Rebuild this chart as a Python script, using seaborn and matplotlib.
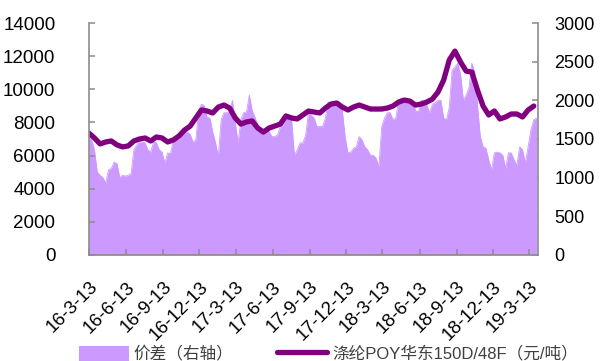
import pandas as pd
import matplotlib
matplotlib.use("Agg")
import matplotlib.pyplot as plt
import matplotlib.transforms as mtransforms
from matplotlib.patches import Patch
from matplotlib.lines import Line2D
import seaborn as sns

# Weekly price spread (right axis), starting 2016-03-13
spread_start = "2016-03-13"
spread_values = [
    1510, 1490, 1360, 1070, 1030, 1000, 930, 1100, 1120, 1200,
    1180, 1000, 1030, 1020, 1030, 1050, 1360, 1420, 1460, 1460,
    1450, 1360, 1330, 1460, 1450, 1360, 1330, 1190, 1320, 1310,
    1490, 1510, 1500, 1550, 1580, 1590, 1560, 1460, 1490, 1870,
    1950, 1930, 1780, 1770, 1590, 1450, 1270, 1750, 1840, 1840,
    1850, 2000, 1710, 1450, 1750, 1840, 1850, 2070, 1870, 1780,
    1680, 1580, 1620, 1620, 1600, 1530, 1530, 1550, 1660, 1680,
    1780, 1780, 1750, 1290, 1360, 1450, 1450, 1550, 1840, 1810,
    1770, 1660, 1660, 1660, 1770, 1980, 1970, 1980, 1990, 1980,
    1870, 1530, 1320, 1330, 1380, 1400, 1530, 1490, 1400, 1360,
    1290, 1290, 1250, 1140, 1660, 1770, 1840, 1840, 1750, 1770,
    2000, 2030, 2020, 2000, 2000, 1980, 1870, 1850, 2000, 1990,
    1940, 1840, 1950, 1970, 2000, 2000, 1770, 1750, 1910, 2390,
    2430, 2480, 2330, 2000, 2070, 2160, 2480, 2370, 1940, 1530,
    1400, 1380, 1230, 1100, 1320, 1330, 1320, 1290, 1120, 1320,
    1320, 1230, 1160, 1400, 1360, 1190, 1400, 1620, 1750, 1770,
]

# Biweekly POY 150D/48F East China price (left axis, yuan/ton)
poy_start = "2016-03-13"
poy_values = [
    7360, 7060, 6700, 6820, 6880, 6640, 6520, 6580, 6880, 7000,
    7060, 6880, 7120, 7060, 6820, 6940, 7180, 7540, 7780, 8270,
    8750, 8690, 8570, 8930, 9050, 8870, 8270, 7900, 8030, 8090,
    7660, 7420, 7660, 7780, 7900, 8390, 8270, 8210, 8450, 8690,
    8630, 8570, 8870, 9110, 9170, 8930, 8750, 8930, 9050, 8930,
    8810, 8810, 8810, 8870, 8990, 9230, 9350, 9290, 9050, 9110,
    9230, 9410, 9840, 10560, 11770, 12310, 11650, 11100, 11040, 9960,
    8990, 8450, 8690, 8210, 8330, 8510, 8510, 8330, 8750, 8990,
]

tick_dates = [
    "2016-03-13", "2016-06-13", "2016-09-13", "2016-12-13",
    "2017-03-13", "2017-06-13", "2017-09-13", "2017-12-13",
    "2018-03-13", "2018-06-13", "2018-09-13", "2018-12-13",
    "2019-03-13",
]
tick_labels = [
    "16-3-13", "16-6-13", "16-9-13", "16-12-13",
    "17-3-13", "17-6-13", "17-9-13", "17-12-13",
    "18-3-13", "18-6-13", "18-9-13", "18-12-13",
    "19-3-13",
]

label_spread = "价差（右轴）"
label_poy = "涤纶POY华东150D/48F（元/吨）"

AREA_COLOR = "#CC99FF"
LINE_COLOR = "#800080"
AXIS_COLOR = "#8C8C8C"

sns.set_theme(style="white")
plt.rcParams["font.family"] = ["Liberation Sans", "Noto Sans CJK SC"]

spread = pd.DataFrame({
    "date": pd.date_range(spread_start, periods=len(spread_values), freq="7D"),
    "value": spread_values,
})
poy = pd.DataFrame({
    "date": pd.date_range(poy_start, periods=len(poy_values), freq="14D"),
    "value": poy_values,
})

fig = plt.figure(figsize=(6, 3.61), dpi=100)
ax = fig.add_axes([0.148, 0.294, 0.749, 0.642])
ax2 = ax.twinx()
# keep the price line above the spread area
ax.set_zorder(ax2.get_zorder() + 1)
ax.patch.set_visible(False)

sns.lineplot(data=spread, x="date", y="value", ax=ax2, color=AREA_COLOR,
             lw=0.6, legend=False)
ax2.fill_between(spread["date"], spread["value"], color=AREA_COLOR, lw=0)
sns.lineplot(data=poy, x="date", y="value", ax=ax, color=LINE_COLOR,
             lw=3.8, legend=False, solid_capstyle="round")

x0, x1 = pd.Timestamp("2016-03-13"), pd.Timestamp("2019-04-04")
ax.set_xlim(x0, x1)
ax.set_ylim(0, 14000)
ax2.set_ylim(0, 3000)
ax.set_yticks(range(0, 14001, 2000))
ax2.set_yticks(range(0, 3001, 500))
ax.set_xticks(pd.to_datetime(tick_dates))
ax.set_xticklabels(tick_labels, rotation=45, ha="right", va="top",
                   rotation_mode="anchor")
shift = mtransforms.ScaledTranslation(3 / 100, 0, fig.dpi_scale_trans)
for lbl in ax.get_xticklabels():
    lbl.set_transform(lbl.get_transform() + shift)

for a in (ax, ax2):
    a.set_xlabel("")
    a.set_ylabel("")
    a.grid(False)
    for side in ("left", "right", "bottom", "top"):
        a.spines[side].set_visible(False)

ax.spines["left"].set_visible(True)
ax.spines["bottom"].set_visible(True)
ax2.spines["right"].set_visible(True)
for sp in (ax.spines["left"], ax.spines["bottom"], ax2.spines["right"]):
    sp.set_color(AXIS_COLOR)
    sp.set_linewidth(1.2)

ax.tick_params(axis="y", direction="in", length=4, width=1.1, color=AXIS_COLOR,
               labelsize=13.5, pad=24, labelcolor="black", left=True)
ax.tick_params(axis="x", direction="in", length=4, width=1.1, color=AXIS_COLOR,
               labelsize=13.5, pad=17, labelcolor="black", bottom=True)
ax2.tick_params(axis="y", direction="in", length=4, width=1.1, color=AXIS_COLOR,
                labelsize=13, pad=11.5, labelcolor="black", right=True)

handles = [
    Patch(facecolor=AREA_COLOR, edgecolor="none"),
    Line2D([], [], color=LINE_COLOR, lw=3.8),
]
fig.legend(handles, [label_spread, label_poy], loc="center",
           bbox_to_anchor=(0.547, 0.02), ncol=2, frameon=False, fontsize=12,
           handlelength=3.0, handleheight=1.0, handletextpad=0.3,
           columnspacing=2.6, labelcolor="#404040")

fig.savefig("out.png", dpi=100)
